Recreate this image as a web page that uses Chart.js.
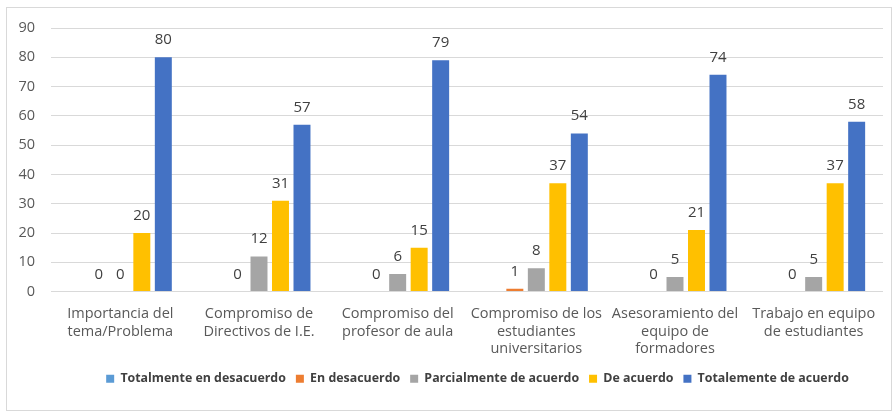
<!DOCTYPE html>
<html>
<head>
<meta charset="utf-8">
<script src="https://cdn.jsdelivr.net/npm/chart.js@4.4.1/dist/chart.umd.min.js"></script>
<style>
    html, body { margin: 0; padding: 0; background: #ffffff; }
    #frame {
        position: absolute; left: 6px; top: 7px;
        width: 884px; height: 402px;
        border: 1px solid #d9d9d9;
    }
    #wrap { position: absolute; left: 0; top: 0; width: 895px; height: 414px; }
</style>
</head>
<body>
<div id="frame"></div>
<div id="wrap"><canvas id="chart"></canvas></div>
<script>
// Categories (multi-line labels as in the original)
var categories = [
    ['Importancia del', 'tema/Problema'],
    ['Compromiso de', 'Directivos de I.E.'],
    ['Compromiso del', 'profesor de aula'],
    ['Compromiso de los', 'estudiantes', 'universitarios'],
    ['Asesoramiento del', 'equipo de', 'formadores'],
    ['Trabajo en equipo', 'de estudiantes']
];

var seriesNames = [
    'Totalmente en desacuerdo',
    'En desacuerdo',
    'Parcialmente de acuerdo',
    'De acuerdo',
    'Totalemente de acuerdo'
];

var totalmenteDesacuerdo = [null, null, null, null, null, null];
var enDesacuerdo = [0, 0, 0, 1, 0, 0];
var parcialmenteAcuerdo = [0, 12, 6, 8, 5, 5];
var deAcuerdo = [20, 31, 15, 37, 21, 37];
var totalmenteAcuerdo = [80, 57, 79, 54, 74, 58];

var yTicks = [0, 10, 20, 30, 40, 50, 60, 70, 80, 90];

var seriesColors = ['#5b9bd5', '#ed7d31', '#a5a5a5', '#ffc000', '#4472c4'];
var seriesValues = [totalmenteDesacuerdo, enDesacuerdo, parcialmenteAcuerdo, deAcuerdo, totalmenteAcuerdo];

var FONT = '"Open Sans", "Liberation Sans", sans-serif';

// Simple value labels above bars
var valueLabels = {
    id: 'valueLabels',
    afterDatasetsDraw: function(chart) {
        var ctx = chart.ctx;
        ctx.save();
        ctx.font = '15px ' + FONT;
        ctx.fillStyle = '#404040';
        ctx.textAlign = 'center';
        ctx.textBaseline = 'alphabetic';
        chart.data.datasets.forEach(function(ds, i) {
            var meta = chart.getDatasetMeta(i);
            meta.data.forEach(function(bar, j) {
                var v = ds.data[j];
                if (v === null || v === undefined) return;
                ctx.fillText(String(v), bar.x, bar.y - 13);
            });
        });
        ctx.restore();
    }
};

// Legend in the original is centred under the plot area, not the canvas
var legendShift = {
    id: 'legendShift',
    afterLayout: function(chart) {
        if (chart.legend) {
            chart.legend.left += 36;
            chart.legend.right += 36;
        }
    }
};

var datasets = seriesNames.map(function(name, i) {
    return {
        label: name,
        data: seriesValues[i],
        backgroundColor: seriesColors[i],
        borderWidth: 0,
        categoryPercentage: 0.775,
        barPercentage: 0.79
    };
});

new Chart(document.getElementById('chart'), {
    type: 'bar',
    data: { labels: categories, datasets: datasets },
    plugins: [valueLabels, legendShift],
    options: {
        responsive: true,
        maintainAspectRatio: false,
        animation: false,
        layout: { padding: { left: 0, right: 12, top: 28, bottom: 19 } },
        scales: {
            x: {
                grid: { display: false },
                border: { display: false },
                ticks: {
                    color: '#595959',
                    font: { family: FONT, size: 14.5 },
                    maxRotation: 0,
                    autoSkip: false,
                    padding: 6
                },
                afterFit: function(scale) { scale.height = 71; }
            },
            y: {
                min: 0,
                max: 90,
                afterBuildTicks: function(scale) {
                    scale.ticks = yTicks.map(function(v) { return { value: v }; });
                },
                grid: { color: '#d9d9d9', lineWidth: 1, drawTicks: false },
                border: { display: false },
                ticks: {
                    color: '#595959',
                    font: { family: FONT, size: 14.5 },
                    padding: 16
                },
                afterFit: function(scale) { scale.width = 51; }
            }
        },
        plugins: {
            legend: {
                position: 'bottom',
                labels: {
                    boxWidth: 8,
                    boxHeight: 8,
                    padding: 10,
                    color: '#404040',
                    font: { family: FONT, size: 12.4, weight: 'bold' }
                }
            },
            tooltip: { enabled: false }
        }
    }
});
</script>
</body>
</html>
